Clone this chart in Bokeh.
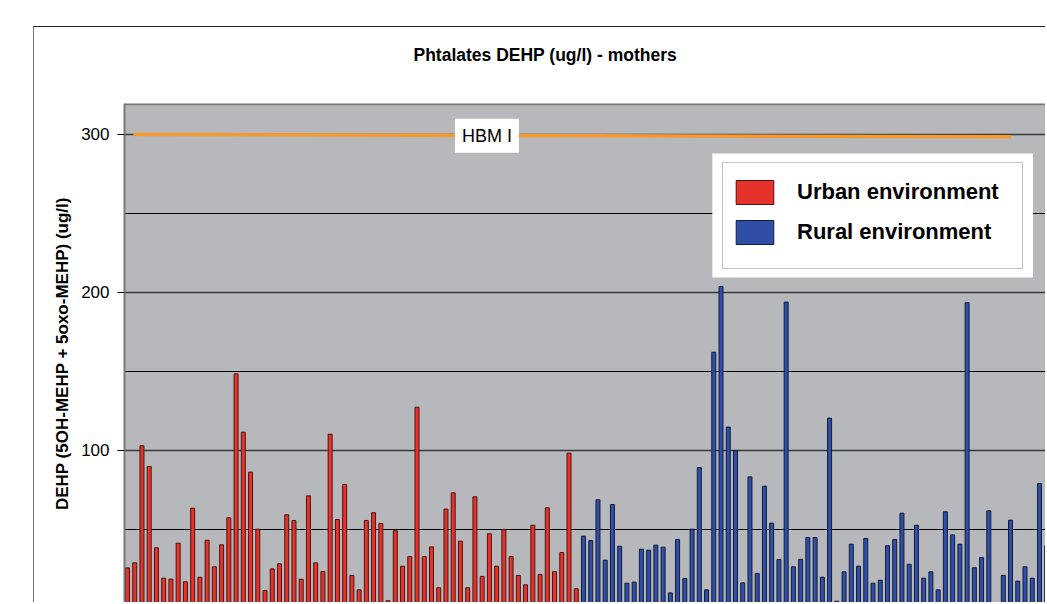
from bokeh.plotting import figure
from bokeh.models import (Range1d, SingleIntervalTicker, Label, BoxAnnotation,
                          Legend, LegendItem, Span, Title, LinearAxis,
                          FixedTicker)
from bokeh.embed import file_html
from bokeh.resources import INLINE

# ---------------- data ----------------
title_text = "Phtalates DEHP (ug/l) - mothers"
y_label = "DEHP (5OH-MEHP + 5oxo-MEHP) (ug/l)"
series_names = ["Urban environment", "Rural environment"]

urban = [25.7, 28.9, 103.0, 89.9, 38.4, 19.2, 18.6, 41.3, 16.9, 63.5,
         19.8, 43.2, 26.4, 40.3, 57.4, 148.5, 111.6, 86.3, 50.2, 11.4,
         25.1, 28.3, 59.3, 55.7, 18.5, 71.3, 28.9, 23.4, 110.3, 56.3,
         78.5, 20.9, 11.8, 55.7, 60.6, 53.8, 4.9, 49.2, 26.8, 32.9,
         127.4, 32.9, 39.0, 13.1, 62.9, 73.2, 42.6, 13.1, 70.7, 20.3,
         47.3, 26.8, 50.0, 32.9, 20.9, 15.0, 52.7, 21.5, 63.7, 23.4,
         35.4, 98.3, 12.5]

rural = [45.8, 43.0, 68.8, 30.6, 65.8, 39.4, 16.0, 16.7, 37.5, 36.9,
         40.1, 38.8, 9.9, 43.7, 19.0, 50.2, 89.2, 11.8, 162.2, 203.8,
         114.8, 99.8, 16.2, 83.3, 22.2, 77.4, 54.0, 31.0, 193.9, 26.4,
         31.1, 44.9, 44.9, 19.8, 120.5, 4.6, 23.2, 40.7, 26.8, 44.3,
         16.0, 17.9, 39.7, 43.7, 60.3, 28.0, 52.7, 19.2, 23.2, 11.8,
         61.2, 46.6, 40.7, 193.5, 25.8, 32.3, 61.8, 3.0, 20.9, 55.9,
         17.3, 26.4, 19.2, 79.1, 39.7]

hbm_label = "HBM I"
hbm_level = [300.0, 298.5]
hbm_index = [0.8, 122.1]

y_tick_interval = 100

urban_x = list(range(len(urban)))
rural_x = list(range(len(urban), len(urban) + len(rural)))

# ---------------- styling ----------------
FONT = "Liberation Sans"
RED = "#e6322a"
BLUE = "#2f4ea6"
Y_TOP = 319.6

p = figure(width=1012, height=576, output_backend="svg", toolbar_location=None,
           x_range=Range1d(-0.414, 126.97), y_range=Range1d(3.16, Y_TOP),
           min_border_left=90, min_border_top=76, min_border_right=0,
           min_border_bottom=0, background_fill_color="#b7b8bc",
           border_fill_color="white", title=None)
p.margin = (26, 0, 0, 33)
p.styles = {"border-left": "1px solid #7a7a7a", "border-top": "1px solid #222222"}

p.outline_line_color = None

p.xaxis.visible = False
p.xgrid.visible = False

ticker = SingleIntervalTicker(interval=y_tick_interval, num_minor_ticks=2)
p.yaxis.ticker = ticker
p.ygrid.ticker = ticker
p.ygrid.grid_line_color = "#3a3a3a"
p.ygrid.grid_line_width = 1.5
p.ygrid.minor_grid_line_color = "black"
p.ygrid.minor_grid_line_width = 1

ax = p.yaxis[0]
ax.axis_label = y_label
ax.axis_label_text_font = FONT
ax.axis_label_text_font_size = "17px"
ax.axis_label_text_font_style = "bold"
ax.axis_label_text_color = "black"
ax.axis_label_standoff = 6
ax.major_label_text_font = FONT
ax.major_label_text_font_size = "17px"
ax.major_label_text_color = "black"
ax.major_label_standoff = 8
ax.axis_line_color = "#7a7a7a"
ax.axis_line_width = 2
ax.major_tick_line_color = "black"
ax.major_tick_out = 7
ax.major_tick_in = 0
ax.minor_tick_line_color = None

# blank spacer panel between the plot area and the title
spacer = LinearAxis(ticker=FixedTicker(ticks=[60]), major_label_overrides={60: ""},
                    major_tick_out=34, major_tick_in=0, major_label_standoff=0,
                    axis_line_color=None, major_tick_line_color="white",
                    minor_tick_line_color=None)
p.add_layout(spacer, "above")

title = Title(text=title_text, align="left", offset=289, standoff=10,
              text_font=FONT, text_font_size="17.5px",
              text_font_style="bold", text_color="black")
p.add_layout(title, "above")

# top edge of the plot area
p.add_layout(Span(location=Y_TOP - 0.4, dimension="width",
                  line_color="#7a7a7a", line_width=2))

r_urban = p.vbar(x=urban_x, top=urban, bottom=0, width=0.55,
                 fill_color=RED, line_color="#4a1510", line_width=1)
r_rural = p.vbar(x=rural_x, top=rural, bottom=0, width=0.55,
                 fill_color=BLUE, line_color="#141c3a", line_width=1)

p.line(x=hbm_index, y=hbm_level, line_color="#f59a2f", line_width=3.5)

p.add_layout(Label(x=49.66, y=299.2, text=hbm_label, text_align="center",
                   text_baseline="middle", text_font=FONT,
                   text_font_size="18px", text_color="black",
                   background_fill_color="white", background_fill_alpha=1.0,
                   padding=7))

# white surround and framed box behind the legend
p.add_layout(BoxAnnotation(left=80.8, right=125.1, top=288, bottom=209.5,
                           fill_color="white", fill_alpha=1.0,
                           line_color=None))
p.add_layout(BoxAnnotation(left=82.2, right=123.65, top=282.3, bottom=215.2,
                           fill_color="white", fill_alpha=1.0,
                           line_color="#333333", line_width=1))

legend = Legend(items=[LegendItem(label=series_names[0], renderers=[r_urban]),
                       LegendItem(label=series_names[1], renderers=[r_rural])],
                location=(607, 356), margin=0, padding=0, spacing=10,
                glyph_width=47, glyph_height=30, label_standoff=19,
                label_text_font=FONT, label_text_font_size="22px",
                label_text_font_style="bold", label_text_color="black",
                border_line_color=None, background_fill_alpha=0.0)
p.add_layout(legend)

open("out.html", "w").write(file_html(p, INLINE))
